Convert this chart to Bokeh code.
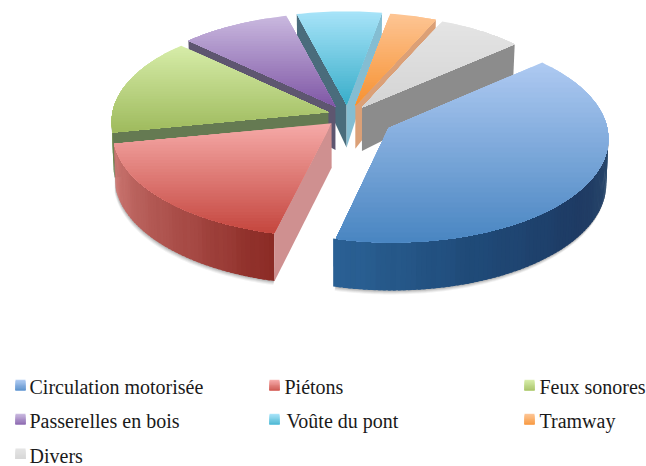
import numpy as np
from bokeh.plotting import figure
from bokeh.embed import file_html
from bokeh.resources import INLINE
from bokeh.core.properties import value

# ---------- data ----------
categories = ["Circulation motorisée", "Piétons", "Feux sonores", "Passerelles en bois",
              "Voûte du pont", "Tramway", "Divers"]
shares = [40.3, 18.1, 15.2, 8.9, 6.9, 3.8, 6.9]

# ---------- styles / layout ----------
top_light = ["#adc9f1", "#f5a9a7", "#d6eca8", "#c8b7de", "#a6e3f8", "#fdc493", "#e4e4e4"]
top_dark = ["#4a86c2", "#c5473f", "#9fbb5e", "#8058a6", "#3aaeca", "#f79232", "#d4d4d4"]
rim_stops = [["#2c4c6e", "#1e3a63", "#1f4a78", "#2b6296"],
             ["#8a2a24", "#a54843", "#b8605b", "#cf7b76"],
             ["#6d8a4c", "#6d8a4c"], ["#5e5670", "#5e5670"], ["#4a6c7c", "#4a6c7c"],
             ["#dba077", "#dba077"], ["#8c8c8c", "#8c8c8c"]]
start_wall = ["#2c5f92", "#cf9090", "#657a52", "#5e5670", "#4a6c7c", "#dba077", "#8c8c8c"]
end_wall = ["#2c5f92", "#cf9090", "#657a52", "#5e5670", "#84bdd2", "#dba077", "#8c8c8c"]
offsets = [(.197, .15), (-.064, .105), (-.079, -.002), (-.047, -.058), (.005, -.078), (.046, -.068), (.077, -.049)]
draw_order = [4, 5, 6, 3, 2, 1, 0]
START = -41.2
CX, CY, A, B, PERSP = 345, 112, 216, 102.2, .083
TEXT_SHIFT = 7
legend_pos = [(15, 29, 393.3), (269, 284, 393.3), (524, 539, 393.3),
              (15, 29, 427.3), (269, 286, 427.3), (524, 539, 427.3), (15, 29, 462)]


def proj(u, v):
    s = 1 / (1 - PERSP * v)
    return CX + A * u * s, CY + B * v * s


def drop(x, y):
    d = np.interp(y, [20, 45, 107, 132, 240], [28, 31, 43.5, 45, 48])
    return CX + (x - CX) * .992, y + d


def hex2rgb(h):
    return np.array([int(h[i:i + 2], 16) for i in (1, 3, 5)], float)


def mix(stops, t):
    pos = t * (len(stops) - 1)
    i = min(int(pos), len(stops) - 2)
    c = hex2rgb(stops[i]) * (1 - (pos - i)) + hex2rgb(stops[i + 1]) * (pos - i)
    return "#%02x%02x%02x" % tuple(int(round(k)) for k in c)


def clip_below(pts, yk):
    out = []
    for i in range(len(pts)):
        a, b = pts[i], pts[(i + 1) % len(pts)]
        ina, inb = a[1] >= yk, b[1] >= yk
        if ina:
            out.append(a)
        if ina != inb:
            t = (yk - a[1]) / (b[1] - a[1])
            out.append((a[0] + t * (b[0] - a[0]), yk))
    return out


XS, YS, FC, FA = [], [], [], []


def add(pts, color, alpha=1.0):
    XS.append([q[0] for q in pts])
    YS.append([q[1] for q in pts])
    FC.append(color)
    FA.append(alpha)


def gradient(pts, light, dark, n=36):
    ys = [q[1] for q in pts]
    lo, hi = min(ys), max(ys)
    add(pts, light)
    for k in range(1, n):
        yk = lo + (hi - lo) * k / n
        c = clip_below(pts, yk)
        if len(c) >= 3:
            add(c, mix([light, dark], k / (n - 1)))


total = sum(shares)
edges = START + np.cumsum([0] + shares) / total * 360

for i in draw_order:
    a0, a1 = edges[i], edges[i + 1]
    du, dv = offsets[i]
    th = np.radians(np.linspace(a0, a1, max(3, int((a1 - a0) / 1.2))))
    apex = proj(du, dv)
    arc = [proj(du + np.cos(t), dv + np.sin(t)) for t in th]

    # soft shadow below the rim
    vis = [t for t in th if np.sin(t) > -.08]
    if i in (0, 1) and len(vis) > 2:
        low = [drop(*proj(du + np.cos(t), dv + np.sin(t))) for t in vis]
        high = [proj(du + np.cos(t), dv + np.sin(t)) for t in vis]
        for sh, al in ((4, .07), (3, .09), (2, .12), (1, .14)):
            add([(x - .3 * sh, y + sh) for x, y in low] + [(x, y) for x, y in reversed(high)], "#404040", al)

    # rim
    if len(vis) > 1:
        for k in range(len(vis) - 1):
            p0 = proj(du + np.cos(vis[k]), dv + np.sin(vis[k]))
            p1 = proj(du + np.cos(vis[k + 1] + .012), dv + np.sin(vis[k + 1] + .012))
            f = k / (len(vis) - 1)
            if i == 0:
                f = np.clip(np.degrees(vis[k]) / 104, 0, 1)
            stripe = (-1) ** (k // 4) * .012
            c = mix(rim_stops[i], float(np.clip(f + stripe, 0, 1)))
            add([p0, p1, drop(*p1), drop(*p0)], c)

    # cut faces that look towards the viewer
    if -np.cos(np.radians(a0)) > 0:
        add([apex, arc[0], drop(*arc[0]), drop(*apex)], start_wall[i])
    if np.cos(np.radians(a1)) > 0:
        add([apex, arc[-1], drop(*arc[-1]), drop(*apex)], end_wall[i])

    # top face
    gradient([apex] + arc, top_light[i], top_dark[i])

# legend keys
for i, (mx, tx, by) in enumerate(legend_pos):
    n = 8
    for k in range(n):
        y0 = by - 14 + 10.5 * k / n
        y1 = by - 14 + 10.5
        add([(mx, y0), (mx + 10, y0), (mx + 10, y1), (mx, y1)], mix([top_light[i], top_dark[i]], (k / (n - 1)) * .75))

p = figure(width=646, height=466, x_range=(0, 646), y_range=(466, 0),
           output_backend="svg", toolbar_location=None, min_border=0,
           background_fill_color="white", border_fill_color="white", outline_line_color=None)
p.axis.visible = False
p.grid.visible = False
p.patches(XS, YS, fill_color=FC, fill_alpha=FA, line_color=None)
p.text([q[1] for q in legend_pos], [q[2] - TEXT_SHIFT for q in legend_pos], text=categories,
       text_font=value("Liberation Serif"), text_font_size="20px", text_color="#1a1a1a",
       text_baseline="alphabetic", text_align="left")

open("out.html", "w").write(file_html(p, INLINE))
